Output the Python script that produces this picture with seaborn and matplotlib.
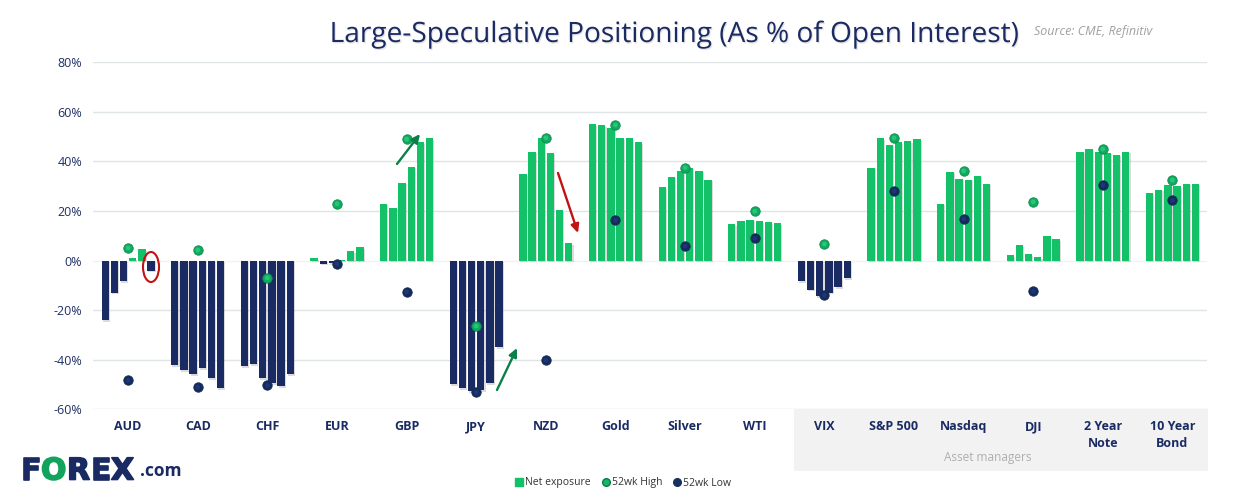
import pandas as pd
import numpy as np
import matplotlib
matplotlib.use("Agg")
import matplotlib.pyplot as plt
import matplotlib.patheffects as pe
from matplotlib.lines import Line2D
from matplotlib.patches import Ellipse, Rectangle
import seaborn as sns

# Data
assets = ["AUD", "CAD", "CHF", "EUR", "GBP", "JPY", "NZD", "Gold", "Silver", "WTI",
          "VIX", "S&P 500", "Nasdaq", "DJI", "2 Year\nNote", "10 Year\nBond"]
weeks = ["w1", "w2", "w3", "w4", "w5", "w6"]
aud = [-24, -13, -8.2, 1, 4.7, -4]
cad = [-42.2, -44.2, -45.9, -43.4, -47.5, -51.5]
chf = [-42.6, -41.8, -47.5, -49.5, -50.7, -45.9]
eur = [1, -1.3, -1, 0.4, 3.8, 5.4]
gbp = [23, 21.3, 31.5, 37.9, 47.7, 49.4]
jpy = [-49.9, -51.5, -52.7, -52.3, -49.5, -35]
nzd = [34.8, 44, 49.4, 43.6, 20.4, 7]
gold = [55, 54.6, 53.4, 49.4, 49.4, 47.7]
silver = [29.5, 33.9, 36.3, 37.5, 36.3, 32.7]
wti = [14.8, 16, 16.5, 16, 15.6, 15.2]
vix = [-8.2, -11.8, -14.3, -13, -10.6, -7]
spx = [37.5, 49.4, 46.8, 47.7, 48.2, 49]
nasdaq = [23, 35.9, 33.1, 32.7, 34.3, 31]
dji = [2.2, 6.2, 2.6, 1.3, 9.8, 8.6]
note2 = [44, 45.2, 44, 43.6, 42.8, 44]
bond10 = [27.4, 28.6, 30.3, 29.9, 31, 31]
high_52 = [5.1, 4.3, -7, 22.9, 49, -26.4, 49.5, 54.7, 37.5, 19.9, 6.7, 49.5, 36.2, 23.7, 45, 32.5]
low_52 = [-48.3, -51.1, -50.3, -1.3, -12.6, -53.1, -40.2, 16.4, 5.9, 9, -14, 28.1, 16.8, -12.4, 30.5, 24.3]
y_ticks = [-60, -40, -20, 0, 20, 40, 60, 80]

NAVY = "#1a2a63"
GREEN = "#13c168"
W, H = 1247, 503

# long table for seaborn
series = [aud, cad, chf, eur, gbp, jpy, nzd, gold, silver, wti, vix, spx, nasdaq, dji, note2, bond10]
df = pd.DataFrame(series, index=assets, columns=weeks).reset_index(names="asset")
df = df.melt(id_vars="asset", var_name="week", value_name="net")

sns.set_theme(style="white")
plt.rcParams["font.family"] = ["Open Sans", "DejaVu Sans"]

fig = plt.figure(figsize=(W / 100, H / 100), dpi=100)
ax = fig.add_axes([93.3 / W, 1 - 409.3 / H, 1114 / W, 347 / H])
ax.set_zorder(2)
ax.patch.set_alpha(0)


def px(x, y):
    # reference pixels -> figure fraction
    return x / W, 1 - y / H


# grey panel behind the asset manager labels
fig.patches.append(Rectangle(px(794, 471), 414 / W, 62 / H, transform=fig.transFigure,
                             facecolor="#f2f2f2", edgecolor="none", zorder=-1))

sns.barplot(data=df, x="asset", y="net", hue="week", order=assets, hue_order=weeks,
            width=0.79, gap=0.2, legend=False, errorbar=None, ax=ax, zorder=3)
shadow = [pe.SimplePatchShadow(offset=(0.8, -1.2), shadow_rgbFace="#888888", alpha=0.3), pe.Normal()]
for bar in ax.patches:
    bar.set_facecolor(GREEN if bar.get_height() > 0 else NAVY)
    bar.set_edgecolor("none")
    bar.set_path_effects(shadow)

# 52 week markers, a small lighter dot on top gives the ball look
points = pd.DataFrame({"asset": assets, "high": high_52, "low": low_52})
sns.scatterplot(data=points, x="asset", y="high", s=46, color="#10a95d", edgecolor="#0e8a50",
                linewidth=0.6, ax=ax, zorder=5, clip_on=False)
sns.scatterplot(data=points, x="asset", y="high", s=12, color="#22c877", edgecolor="none",
                ax=ax, zorder=5.1, clip_on=False)
sns.scatterplot(data=points, x="asset", y="low", s=46, color="#15295f", edgecolor="#12304f",
                linewidth=0.6, ax=ax, zorder=5, clip_on=False)
sns.scatterplot(data=points, x="asset", y="low", s=12, color="#1e3674", edgecolor="none",
                ax=ax, zorder=5.1, clip_on=False)

ax.set_xlim(-0.5, 15.5)
ax.set_ylim(-60, 80)
ax.set_yticks(y_ticks)
ax.set_yticklabels([f"{t}%" for t in y_ticks], color="#1f2f66", fontsize=9)
ax.set_xlabel("")
ax.set_ylabel("")
ax.tick_params(axis="both", length=0)
ax.tick_params(axis="y", pad=8)
ax.tick_params(axis="x", pad=8)
ax.set_xticks(range(len(assets)))
ax.set_xticklabels(assets, color=NAVY, fontsize=9, fontweight="bold", linespacing=1.35, va="top")
for side in ["top", "right", "left", "bottom"]:
    ax.spines[side].set_visible(False)
ax.grid(axis="y", color="#dfe5e5", linewidth=1, zorder=0)
ax.set_axisbelow(True)
ax.get_ygridlines()[3].set_color("#f1f3f3")

# arrows and ring drawn over the chart
arrows = [((397, 164), (420, 134), "#0b7f48"),
          ((497, 390), (517, 348), "#0b7f48"),
          ((558, 173), (578, 233), "#c01414")]
for start, end, col in arrows:
    ax.annotate("", xy=px(*end), xytext=px(*start), xycoords="figure fraction",
                textcoords="figure fraction", zorder=6,
                arrowprops=dict(arrowstyle="-|>,head_length=0.42,head_width=0.2", color=col, lw=1.7,
                                shrinkA=0, shrinkB=0))
ax.add_patch(Ellipse(px(151, 267), 16 / W, 30 / H, transform=fig.transFigure,
                     facecolor="none", edgecolor="#c01414", linewidth=1.5, zorder=6))

# title and source
title = fig.text(*px(673, 35), "Large-Speculative Positioning (As % of Open Interest)", ha="center",
                 va="center", fontsize=20.2, color=NAVY)
title.set_path_effects([pe.withSimplePatchShadow(offset=(0.8, -1), shadow_rgbFace="#bbbbbb", alpha=0.4)])
fig.text(*px(1034, 31), "Source: CME, Refinitiv", ha="left", va="center", fontsize=9,
         style="italic", color="#a0a0a0")
fig.text(*px(988, 457), "Asset managers", ha="center", va="center", fontsize=8.5, color="#aeaeae")

# logo
logo_y = 471
for letter, x, col in [("F", 21, NAVY), ("O", 41, "#13a35c"), ("R", 67, NAVY), ("E", 91, NAVY), ("X", 111, NAVY)]:
    logo_letter = fig.text(*px(x, logo_y), letter, ha="left", va="center", fontsize=21.5, fontweight="bold",
                           family="DejaVu Sans", color=col)
    logo_letter.set_path_effects([pe.withStroke(linewidth=1.2, foreground=col)])
fig.text(*px(140, logo_y), ".com", ha="left", va="center", fontsize=12.5, fontweight="bold", color=NAVY)

# legend
handles = [Line2D([], [], marker="s", linestyle="none", markersize=5.5, color=GREEN),
           Line2D([], [], marker="o", linestyle="none", markersize=5.5, color="#14b765", markeredgecolor="#0d7a45"),
           Line2D([], [], marker="o", linestyle="none", markersize=5.5, color="#17305f")]
fig.legend(handles, ["Net exposure", "52wk High", "52wk Low"], loc="center", bbox_to_anchor=px(622, 483),
           ncol=3, frameon=False, fontsize=7.5, labelcolor="#333333", handletextpad=0, columnspacing=0.8,
           handlelength=1.2)

fig.savefig("out.png", dpi=100)
